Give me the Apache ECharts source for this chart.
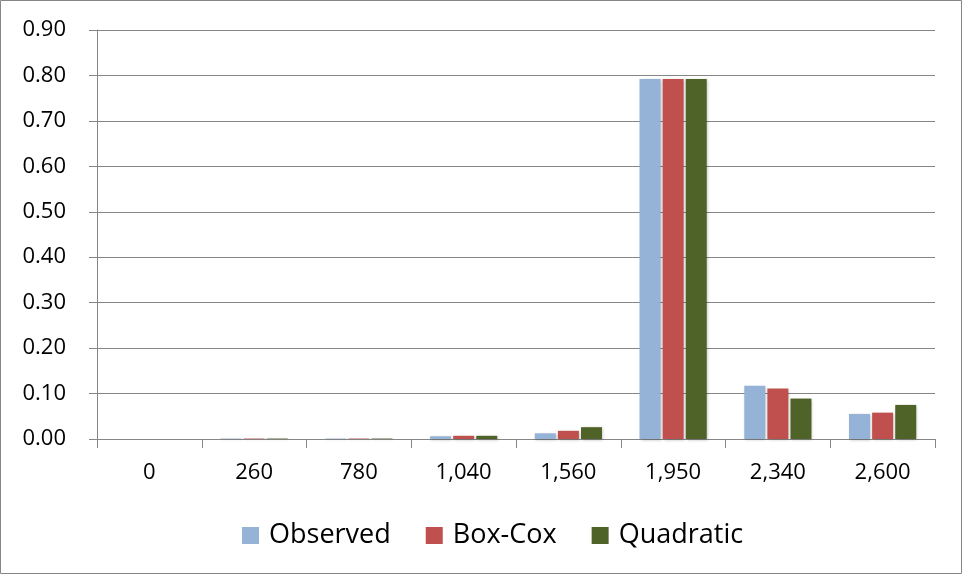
<!DOCTYPE html>
<html><head><meta charset="utf-8">
<script src="https://cdn.jsdelivr.net/npm/echarts@6/dist/echarts.min.js"></script>
<style>html,body{margin:0;padding:0;background:#fff}#c{width:963px;height:575px}</style>
</head><body><div id="c"></div>
<script>
const categories = ['0','260','780','1,040','1,560','1,950','2,340','2,600'];
const observed  = [0, 0.001, 0.001, 0.006, 0.0125, 0.792, 0.117, 0.055];
const boxCox    = [0, 0.001, 0.001, 0.007, 0.018, 0.792, 0.111, 0.058];
const quadratic = [0, 0.001, 0.001, 0.007, 0.026, 0.792, 0.089, 0.075];
const seriesNames = ['Observed','Box-Cox','Quadratic'];
const colors = ['#95B3D7','#C0504D','#4F6228'];

const chart = echarts.init(document.getElementById('c'));
const font = 'Open Sans, Noto Sans, sans-serif';
const mk = (name, data, color) => ({
  name, type: 'bar', data, barWidth: 21, barGap: '10%',
  itemStyle: { color, shadowColor: 'rgba(0,0,0,0.25)', shadowBlur: 3, shadowOffsetX: 1, shadowOffsetY: 1 }
});
chart.setOption({
  animation: false,
  graphic: [{ type: 'rect', shape: { x: 0.5, y: 0.5, width: 961, height: 573 }, style: { fill: 'none', stroke: '#868686', lineWidth: 1 } }],
  grid: { left: 97, right: 28, top: 30, bottom: 136 },
  legend: {
    top: 517, left: 237, itemWidth: 17, itemHeight: 17, itemGap: 35,
    icon: 'rect',
    textStyle: { fontFamily: font, fontSize: 27, color: '#000', padding: [0, 0, 0, 5] },
    data: seriesNames
  },
  xAxis: {
    type: 'category', data: categories,
    axisLine: { lineStyle: { color: '#868686', width: 1 } },
    axisTick: { show: true, length: 9, lineStyle: { color: '#868686' } },
    axisLabel: { fontFamily: font, fontSize: 22, color: '#000', margin: 23 }
  },
  yAxis: {
    type: 'value', min: 0, max: 0.9, interval: 0.1,
    axisLine: { show: true, lineStyle: { color: '#868686' } },
    axisTick: { show: true, length: 8, lineStyle: { color: '#868686' } },
    splitLine: { lineStyle: { color: '#868686' } },
    axisLabel: { fontFamily: font, fontSize: 22, color: '#000', margin: 31, formatter: v => v.toFixed(2) }
  },
  series: [mk(seriesNames[0], observed, colors[0]), mk(seriesNames[1], boxCox, colors[1]), mk(seriesNames[2], quadratic, colors[2])]
});
</script></body></html>
